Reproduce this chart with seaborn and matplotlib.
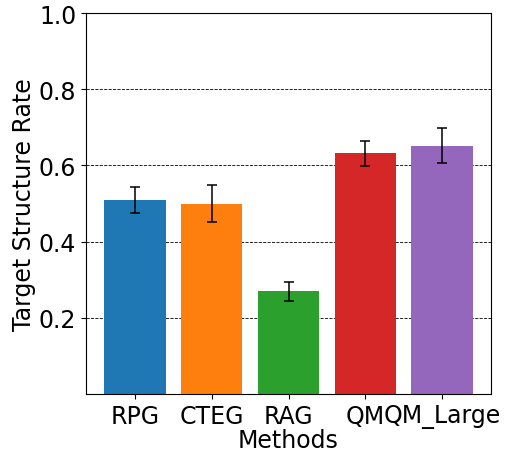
import matplotlib
matplotlib.use("Agg")
import matplotlib.pyplot as plt
import seaborn as sns
import pandas as pd

methods = ["RPG", "CTEG", "RAG", "QM", "QM_Large"]
rates = [0.510, 0.500, 0.270, 0.632, 0.652]
errors = [0.034, 0.048, 0.025, 0.033, 0.045]
colors = ["#1f77b4", "#ff7f0e", "#2ca02c", "#d62728", "#9467bd"]
yticks = [0.2, 0.4, 0.6, 0.8, 1.0]

df = pd.DataFrame({"Methods": methods, "Rate": rates})

fig = plt.figure(figsize=(5.05, 4.56), dpi=100)
ax = fig.add_axes([86 / 505, 1 - 395 / 456, (491 - 86) / 505, (395 - 14) / 456])

sns.barplot(data=df, x="Methods", y="Rate", hue="Methods", palette=colors,
            saturation=1, width=0.8, errorbar=None, legend=False, ax=ax, zorder=2)
ax.errorbar(range(len(methods)), rates, yerr=errors, fmt="none",
            ecolor="black", elinewidth=1.1, capsize=3.5, capthick=1.1, zorder=3)

ax.set_xlim(-0.64, len(methods) - 1 + 0.64)
ax.set_ylim(0, 1.0)
ax.set_yticks(yticks)
ax.set_yticklabels([f"{t:.1f}" for t in yticks])
ax.yaxis.grid(True, linestyle="--", color="black", linewidth=0.6, zorder=0)
ax.set_axisbelow(True)
for s in ax.spines.values():
    s.set_visible(True)
    s.set_color("black")
    s.set_linewidth(0.8)

ax.tick_params(labelsize=17)
ax.set_xlabel("Methods", fontsize=17, labelpad=0)
ax.set_ylabel("Target Structure Rate", fontsize=17, labelpad=2)

fig.savefig("out.png", dpi=100)
